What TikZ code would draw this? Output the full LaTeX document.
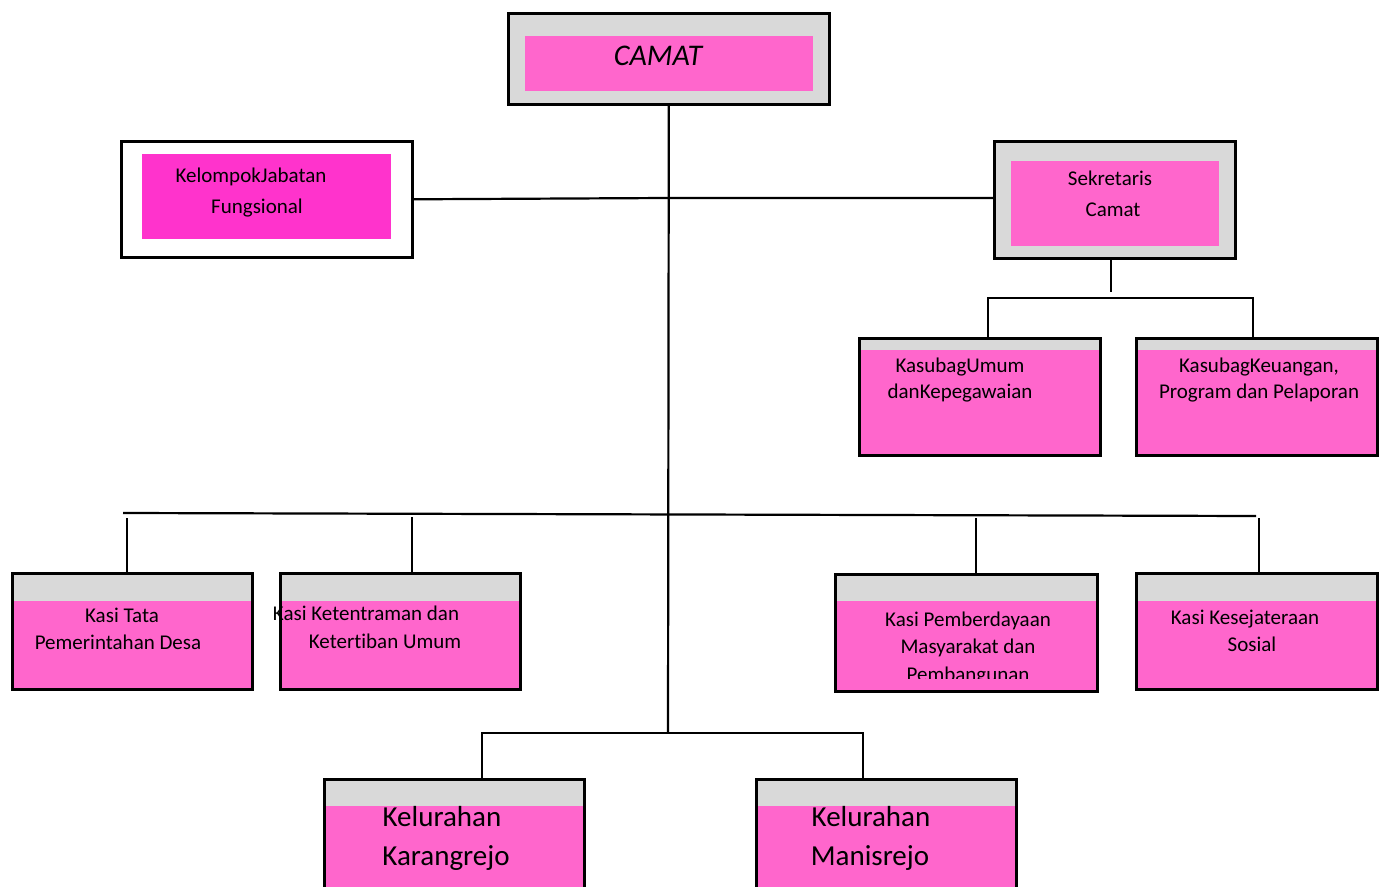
\documentclass[tikz,border=0pt]{standalone}
\usepackage{fontspec}
\setmainfont{Carlito}[Ligatures=NoCommon]
\definecolor{pinkfill}{HTML}{FF66CC}
\definecolor{magentafill}{HTML}{FF33CC}
\definecolor{headgray}{HTML}{D9D9D9}
\tikzset{
  boxsize/.style 2 args={minimum width=#1*0.5pt,minimum height=#2*0.5pt},
  outerbox/.style={draw,line width=1.3pt,fill=headgray,anchor=north west,inner sep=0pt},
  innerbox/.style={fill=pinkfill,anchor=north west,inner sep=0pt},
  unitbox/.style={draw,line width=1.3pt,fill=pinkfill,anchor=north west,inner sep=0pt,
    path picture={\fill[headgray] (path picture bounding box.north west)
      rectangle ([yshift=-#1*0.5pt]path picture bounding box.north east);}},
  lbl/.style={anchor=base,inner sep=0pt,font=\fontsize{10.5}{12}\selectfont},
  biglbl/.style={anchor=base,inner sep=0pt,font=\fontsize{14.5}{17}\selectfont}
}
\begin{document}
\begin{tikzpicture}[x=0.5pt,y=-0.5pt,line width=1.1pt]
  \clip (0,0) rectangle (1384,887);
  \fill[white] (0,0) rectangle (1384,887);
  % top
  \node[outerbox,boxsize={321}{91}] (camat) at (507,12) {};
  \node[innerbox,boxsize={288}{55}] (camatin) at (524,35) {};
  \node[anchor=base,inner sep=0pt,font=\fontsize{15}{18}\selectfont\itshape] (tcamat) at (658,66) {CAMAT};
  \node[outerbox,fill=white,boxsize={291}{116}] (kelompok) at (120,140) {};
  \node[innerbox,fill=magentafill,boxsize={249}{85}] (kelompokin) at (141,153) {};
  \node[lbl] (tkel1) at (251,183) {KelompokJabatan};
  \node[lbl] (tkel2) at (257,214) {Fungsional};
  \node[outerbox,boxsize={241}{117}] (sekretaris) at (993,140) {};
  \node[innerbox,boxsize={208}{85}] (sekretarisin) at (1010,160) {};
  \node[lbl] (tsek1) at (1110,186) {Sekretaris};
  \node[lbl] (tsek2) at (1113,217) {Camat};
  % kasubag
  \node[unitbox=12,boxsize={241}{117}] (umum) at (858,337) {};
  \node[lbl] (tumum1) at (960,372) {KasubagUmum};
  \node[lbl] (tumum2) at (960,398) {danKepegawaian};
  \node[unitbox=12,boxsize={241}{117}] (keuangan) at (1135,337) {};
  \node[lbl] (tkeu1) at (1259,372) {KasubagKeuangan,};
  \node[lbl] (tkeu2) at (1259,398) {Program dan Pelaporan};
  % kasi
  \node[unitbox=28,boxsize={240}{116}] (tata) at (11,572) {};
  \node[lbl] (ttata1) at (122,622) {Kasi Tata};
  \node[lbl] (ttata2) at (118,649) {Pemerintahan Desa};
  \node[unitbox=28,boxsize={240}{116}] (tentram) at (279,572) {};
  \node[lbl] (ttent1) at (366,620) {Kasi Ketentraman dan};
  \node[lbl] (ttent2) at (385,648) {Ketertiban Umum};
  \node[unitbox=27,boxsize={262}{117}] (berdaya) at (834,573) {};
  \node[lbl] (tberd1) at (968,626) {Kasi Pemberdayaan};
  \node[lbl] (tberd2) at (968,653) {Masyarakat dan};
  \begin{scope}
    \clip (834,573) rectangle (1096,678);
    \node[lbl] (tberd3) at (968,681) {Pembangunan};
  \end{scope}
  \node[unitbox=28,boxsize={241}{116}] (sosial) at (1135,572) {};
  \node[lbl] (tsos1) at (1245,624) {Kasi Kesejateraan};
  \node[lbl] (tsos2) at (1252,651) {Sosial};
  % kelurahan
  \node[unitbox=27,boxsize={260}{140}] (karang) at (323,778) {};
  \node[biglbl] (tkar1) at (442,826) {Kelurahan};
  \node[biglbl] (tkar2) at (446,865) {Karangrejo};
  \node[unitbox=27,boxsize={260}{140}] (manis) at (755,778) {};
  \node[biglbl] (tman1) at (871,826) {Kelurahan};
  \node[biglbl] (tman2) at (870,865) {Manisrejo};
  % lines
  \coordinate (hub1) at (668,198);
  \coordinate (hub3) at (668,733);
  \coordinate (sekend) at (1111,292);
  \coordinate (su1) at (988,298);
  \coordinate (su2) at (1253,298);
  \coordinate (barL) at (123,513);
  \coordinate (barR) at (1256,516);
  \coordinate (d1) at (127,518);
  \coordinate (d2) at (412,517);
  \coordinate (d3) at (976,518);
  \coordinate (d4) at (1259,518);
  \coordinate (b1) at (482,733);
  \coordinate (b2) at (863,733);
  \draw (camat.south) -- (hub3);
  \draw (kelompok.east) -- (hub1) -- (hub1 -| sekretaris.west);
  \draw (sekretaris.south -| sekend) -- (sekend);
  \draw (su1 |- umum.north) -- (su1) -- (su2) -- (su2 |- keuangan.north);
  \draw (barL) -- (barR);
  \draw (d1) -- (d1 |- tata.north);
  \draw (d2) -- (d2 |- tentram.north);
  \draw (d3) -- (d3 |- berdaya.north);
  \draw (d4) -- (d4 |- sosial.north);
  \draw (b1 |- karang.north) -- (b1) -- (b2) -- (b2 |- manis.north);
\end{tikzpicture}
\end{document}
